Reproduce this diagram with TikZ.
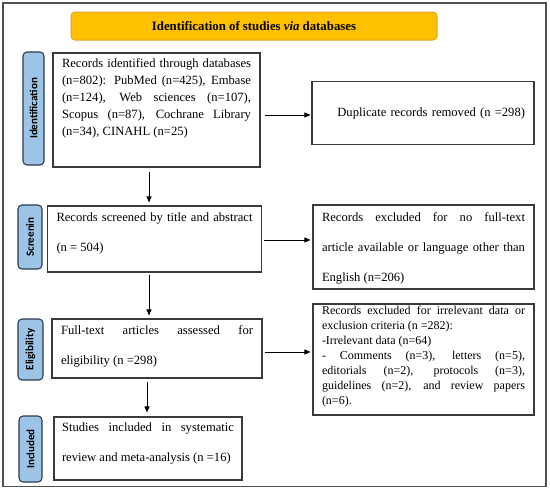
\documentclass[tikz,border=0pt]{standalone}
\usepackage{fontspec}
\setmainfont{Liberation Serif}
\newfontfamily\labfont{Carlito}
\usetikzlibrary{arrows.meta}
\definecolor{hdrfill}{HTML}{FFC000}
\definecolor{hdrdraw}{HTML}{E3A41C}
\definecolor{labfill}{HTML}{9DC3E6}
\definecolor{labdraw}{HTML}{2E3B4E}
\definecolor{boxdraw}{HTML}{3A3A3A}
\definecolor{framedraw}{HTML}{505050}
% #1 height, #2 text width, #3 top gap, #4 text
\newcommand\btext[4]{\parbox[c][#1][t]{#2}{\vspace*{#3}#4}}
\begin{document}
\begin{tikzpicture}[x=1pt,y=-1pt,
  box/.style={draw=boxdraw, line width=1.1pt, inner xsep=9pt, inner ysep=0pt,
    font=\fontsize{12.6}{30}\selectfont},
  sidelab/.style={draw=labdraw, fill=labfill, line width=1.1pt, rounded corners=4pt,
    rotate=90, inner sep=0pt, font=\labfont\bfseries\fontsize{11}{13}\selectfont},
  arr/.style={-{Triangle[length=6pt,width=5pt]}, line width=0.8pt}]
\useasboundingbox (0,0) rectangle (550,491);
\draw[framedraw, line width=1.5pt] (3,3) rectangle (546,486.5);

\node[draw=hdrdraw, fill=hdrfill, line width=1pt, rounded corners=4pt,
  minimum width=366pt, minimum height=28pt, inner sep=0pt,
  font=\bfseries\fontsize{12.8}{15}\selectfont] (hdr) at (254,26)
  {Identification of studies \textit{via} databases};

% side labels
\node[sidelab, minimum width=113pt, minimum height=21pt] (idlab) at (33.5,108.5) {Identification};
\node[sidelab, minimum width=64pt, minimum height=24pt] (scrlab) at (30,237) {Screenin};
\node[sidelab, minimum width=61pt, minimum height=25pt] (ellab) at (30.5,349.5) {Eligibility};
\node[sidelab, minimum width=66pt, minimum height=23pt] (inlab) at (30.5,449) {Included};

% main boxes
\node[box, font=\fontsize{12.6}{17}\selectfont] (idbox) at (156.5,110)
  {\btext{114pt}{189pt}{6pt}{Records identified through databases\linebreak (n=802): PubMed (n=425), Embase\linebreak
   (n=124), Web sciences (n=107),\linebreak Scopus (n=87), Cochrane Library\linebreak
   (n=34), CINAHL (n=25)}};
\node[box, text width=204pt, minimum height=63pt, align=right] (dup) at (423,113)
  {Duplicate records removed (n =298)};

\node[box] (scrbox) at (154.5,239)
  {\btext{66pt}{196pt}{7pt}{Records screened by title and abstract\linebreak (n = 504)}};
\node[box] (ex1) at (423.5,247)
  {\btext{84pt}{203pt}{8pt}{Records excluded for no full-text\linebreak article available or language other than\linebreak English (n=206)}};

\node[box] (elbox) at (157,348.5)
  {\btext{59pt}{192pt}{7pt}{Full-text articles assessed for\linebreak eligibility (n =298)}};
\node[box, font=\fontsize{12}{15}\selectfont] (ex2) at (423.5,359.5)
  {\btext{111pt}{203pt}{2.5pt}{Records excluded for irrelevant data or\linebreak exclusion criteria (n =282):\\
   -Irrelevant data (n=64)\\
   - Comments (n=3), letters (n=5),\linebreak editorials (n=2), protocols (n=3),\linebreak
   guidelines (n=2), and review papers\linebreak (n=6).}};

\node[box, inner xsep=8pt] (inbox) at (148,448.5)
  {\btext{63pt}{172pt}{6pt}{Studies included in systematic\linebreak review and meta-analysis (n =16)}};

% connectors
\coordinate (ca) at (149,0);
\coordinate (cb) at (147,0);
\coordinate (r1) at (0,115);
\coordinate (r2) at (0,240);
\coordinate (r3) at (0,352);
\draw[arr, shorten <=4pt, shorten >=3pt] (idbox.south -| ca) -- (scrbox.north -| ca);
\draw[arr, shorten <=2pt, shorten >=3pt] (scrbox.south -| ca) -- (elbox.north -| ca);
\draw[arr, shorten <=3pt, shorten >=4pt] (elbox.south -| cb) -- (inbox.north -| cb);
\draw[arr, shorten <=4pt, shorten >=1pt] (idbox.east |- r1) -- (dup.west |- r1);
\draw[arr, shorten <=2pt, shorten >=2pt] (scrbox.east |- r2) -- (ex1.west |- r2);
\draw[arr, shorten <=2pt, shorten >=2pt] (elbox.east |- r3) -- (ex2.west |- r3);
\end{tikzpicture}
\end{document}
